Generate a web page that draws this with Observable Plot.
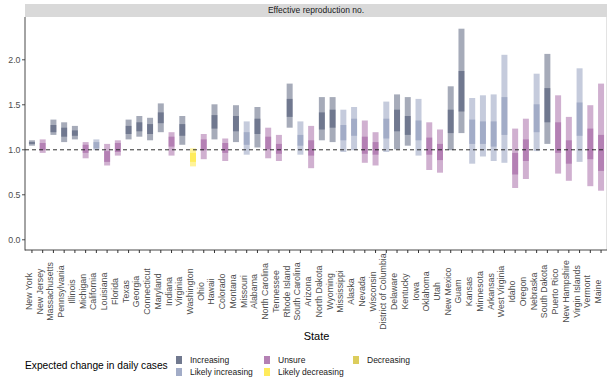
<!DOCTYPE html>
<html><head><meta charset="utf-8">
<script src="https://cdn.jsdelivr.net/npm/d3@7"></script>
<script src="https://cdn.jsdelivr.net/npm/@observablehq/plot@0.6"></script>
<style>
body{margin:0;background:#fff;font-family:"Liberation Sans",Arial,Helvetica,sans-serif;}
#wrap{position:relative;width:616px;height:384px;overflow:hidden;background:#fff;}
#strip{position:absolute;left:25px;top:4px;width:582px;height:13px;background:#d9d9d9;font-size:8.5px;line-height:13px;text-align:center;color:#1a1a1a;}
#chart{position:absolute;left:0;top:17px;}
.lg{position:absolute;font-size:8.5px;line-height:12px;color:#1a1a1a;white-space:nowrap;}
.lgt{position:absolute;font-size:10.2px;line-height:14px;color:#000;white-space:nowrap;}
.key{position:absolute;width:6px;height:8px;}
</style></head><body>
<div id="wrap">
  <div id="strip">Effective reproduction no.</div>
  <div id="chart"></div>
  <div id="legend"></div>
</div>
<script>
const states = ["New York","New Jersey","Massachusetts","Pennsylvania","Illinois","Michigan","California","Louisiana","Florida","Texas","Georgia","Connecticut","Maryland","Indiana","Virginia","Washington","Ohio","Hawaii","Colorado","Montana","Missouri","Alabama","North Carolina","Tennessee","Rhode Island","South Carolina","Arizona","North Dakota","Wyoming","Mississippi","Alaska","Nevada","Wisconsin","District of Columbia","Delaware","Kentucky","Iowa","Oklahoma","Utah","New Mexico","Guam","Kansas","Minnesota","Arkansas","West Virginia","Idaho","Oregon","Nebraska","South Dakota","Puerto Rico","New Hampshire","Virgin Islands","Vermont","Maine"];
const trend = ["Increasing","Unsure","Increasing","Increasing","Increasing","Unsure","Likely increasing","Unsure","Unsure","Increasing","Increasing","Increasing","Increasing","Unsure","Increasing","Likely decreasing","Unsure","Increasing","Unsure","Increasing","Likely increasing","Increasing","Unsure","Unsure","Increasing","Likely increasing","Unsure","Increasing","Increasing","Likely increasing","Likely increasing","Unsure","Unsure","Likely increasing","Increasing","Increasing","Likely increasing","Unsure","Unsure","Increasing","Increasing","Likely increasing","Likely increasing","Likely increasing","Likely increasing","Unsure","Unsure","Likely increasing","Increasing","Unsure","Unsure","Likely increasing","Unsure","Unsure"];
const lower90 = [1.04,0.96,1.16,1.08,1.11,0.90,0.99,0.82,0.93,1.11,1.14,1.10,1.19,0.93,1.05,0.81,0.89,1.11,0.87,1.08,0.94,1.02,0.90,0.87,1.24,0.94,0.79,1.10,1.08,0.97,0.99,0.85,0.82,0.97,1.00,1.04,0.93,0.77,0.74,0.99,1.18,0.84,0.92,0.87,0.85,0.57,0.67,0.98,1.06,0.73,0.65,0.86,0.59,0.54];
const upper90 = [1.10,1.11,1.33,1.30,1.26,1.08,1.11,1.06,1.10,1.33,1.37,1.35,1.51,1.19,1.37,1.01,1.17,1.50,1.12,1.49,1.31,1.47,1.24,1.16,1.73,1.31,1.26,1.58,1.58,1.44,1.47,1.32,1.19,1.53,1.61,1.58,1.56,1.30,1.22,1.70,2.34,1.57,1.60,1.61,2.05,1.23,1.34,1.84,2.06,1.60,1.36,1.90,1.49,1.73];
const lower50 = [1.06,0.99,1.19,1.14,1.15,0.96,1.01,0.86,0.97,1.17,1.20,1.17,1.29,1.03,1.15,0.86,0.99,1.23,0.96,1.20,1.05,1.17,1.00,0.95,1.36,1.04,0.93,1.22,1.24,1.10,1.15,0.95,0.94,1.12,1.20,1.16,1.10,0.94,0.88,1.18,1.42,1.06,1.06,1.03,1.16,0.72,0.87,1.19,1.30,0.96,0.84,1.15,0.89,0.76];
const upper50 = [1.08,1.07,1.27,1.24,1.21,1.05,1.08,0.98,1.07,1.26,1.30,1.28,1.41,1.14,1.28,0.96,1.11,1.38,1.07,1.37,1.19,1.34,1.14,1.06,1.56,1.16,1.10,1.41,1.44,1.27,1.34,1.14,1.08,1.34,1.44,1.37,1.32,1.13,1.06,1.44,1.87,1.33,1.31,1.31,1.58,0.96,1.11,1.50,1.68,1.30,1.10,1.52,1.23,1.16];
const categories = ["Increasing","Likely increasing","Unsure","Likely decreasing","Decreasing"];
const yTicks = [0, 0.5, 1, 1.5, 2];
const reference = [1];

const palette = ["#212d50","#6e7da7","#8a3a8a","#ffe000","#c8b000"];

const rows = states.map((s, i) => ({state: s, trend: trend[i], lo90: lower90[i], hi90: upper90[i], lo50: lower50[i], hi50: upper50[i]}));

const font = '"Liberation Sans",Arial,Helvetica,sans-serif';

const lines = (index, scales, values, dims) => {
  const g = d3.create("svg:g");
  const x0 = dims.marginLeft, x1 = dims.width - dims.marginRight;
  const y0 = dims.marginTop, y1 = dims.height - dims.marginBottom;
  g.append("line").attr("x1", x1 - 0.5).attr("x2", x1 - 0.5).attr("y1", y0).attr("y2", y1).attr("stroke", "#e3e3e3").attr("stroke-width", 1);
  g.append("line").attr("x1", x0).attr("x2", x0).attr("y1", y0).attr("y2", y1 + 0.5).attr("stroke", "#333").attr("stroke-width", 0.9);
  g.append("line").attr("x1", x0).attr("x2", x1).attr("y1", y1).attr("y2", y1).attr("stroke", "#333").attr("stroke-width", 0.9);
  return g.node();
};

const chart = Plot.plot({
  width: 616, height: 328,
  marginTop: 0, marginLeft: 25, marginRight: 9, marginBottom: 95,
  style: {fontFamily: font, background: "transparent"},
  x: {type: "point", domain: states, padding: 0.6},
  y: {domain: [-0.119, 2.47]},
  color: {domain: categories, range: palette},
  marks: [
    Plot.ruleX(rows, {x: "state", y1: "lo90", y2: "hi90", stroke: "trend", strokeWidth: 6, strokeOpacity: 0.4}),
    Plot.ruleX(rows, {x: "state", y1: "lo50", y2: "hi50", stroke: "trend", strokeWidth: 6, strokeOpacity: 0.4}),
    Plot.ruleY(reference, {stroke: "#1a1a1a", strokeWidth: 0.9, strokeDasharray: "4,3"}),
    Plot.axisY({ticks: yTicks, tickFormat: d3.format(".1f"), tickSize: 3, tickPadding: 2, fontSize: 8.8, color: "#4d4d4d", label: null}),
    Plot.axisX({tickSize: 3, tickFormat: () => "", label: null, color: "#333"}),
    Plot.text(states, {x: d => d, text: d => d, frameAnchor: "bottom", dy: 41, rotate: -90, textAnchor: "middle", fontSize: 8.8, fill: "#4d4d4d"}),
    Plot.text(["State"], {text: d => d, frameAnchor: "bottom", dy: 89, fontSize: 11, fill: "#000"}),
    lines
  ]
});
document.getElementById("chart").appendChild(chart);

// Legend
const legend = document.getElementById("legend");
const add = (cls, left, top, text, style) => {
  const d = document.createElement("div");
  d.className = cls; d.style.left = left + "px"; d.style.top = top + "px";
  if (text) d.textContent = text;
  if (style) Object.assign(d.style, style);
  legend.appendChild(d);
};
add("lgt", 25, 359, "Expected change in daily cases");
const colLeft = [176, 264, 353];
categories.forEach((c, i) => {
  const col = Math.floor(i / 2), row = i % 2;
  const k = colLeft[col];
  const cy = row === 0 ? 360 : 372;
  add("key", k, cy - 4, "", {background: palette[i], opacity: 0.64});
  add("lg", k + 14, cy - 6, c);
});
</script>
</body></html>
